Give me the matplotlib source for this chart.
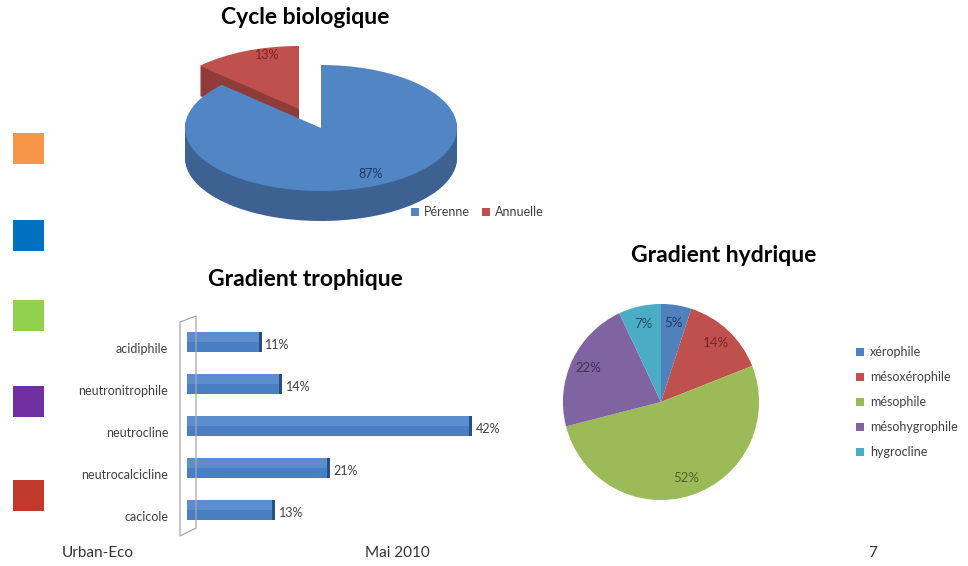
import matplotlib
matplotlib.use("Agg")
import matplotlib.pyplot as plt
import matplotlib.transforms as mtransforms
import numpy as np
from matplotlib.patches import Rectangle, Polygon
from matplotlib.colors import to_rgb

plt.rcParams['font.family'] = ['Lato', 'DejaVu Sans']

W, H = 968, 566

# --- data -------------------------------------------------------------
cycle_labels = ['Pérenne', 'Annuelle']
cycle_values = [87, 13]
cycle_colors = ['#5285C4', '#C0504D']

trophic_labels = ['acidiphile', 'neutronitrophile', 'neutrocline',
                  'neutrocalcicline', 'cacicole']
trophic_values = [11, 14, 42, 21, 13]

hydric_labels = ['xérophile', 'mésoxérophile', 'mésophile',
                 'mésohygrophile', 'hygrocline']
hydric_values = [5, 14, 52, 22, 7]
hydric_colors = ['#4F81BD', '#C0504D', '#9BBB59', '#8064A2', '#4BACC6']
hydric_text = ['#1F3864', '#7B2424', '#4F6228', '#3F3151', '#1F4E5F']

swatch_colors = ['#F79646', '#0070C0', '#92D050', '#7030A0', '#C0392B']

TXT = '#404040'
SMALL = 9


def box(left, top, width, height):
    """Pixel box (from top-left) -> figure fraction rect."""
    return [left / W, 1 - (top + height) / H, width / W, height / H]


def fxy(x, y):
    return (x / W, 1 - y / H)


def darker(c, f):
    r, g, b = to_rgb(c)
    return (r * f, g * f, b * f)


fig = plt.figure(figsize=(W / 100, H / 100), dpi=100)
fig.patch.set_facecolor('white')

# --- coloured squares on the left ------------------------------------
for top, col in zip([133, 220, 300, 386, 480], swatch_colors):
    fig.add_artist(Rectangle((13 / W, 1 - (top + 31) / H), 31 / W, 31 / H,
                             transform=fig.transFigure, facecolor=col,
                             edgecolor='none'))

# --- Cycle biologique : tilted pie with thickness --------------------
ax1 = fig.add_axes(box(170, 40, 300, 190))
cx, cy, rx, ry, depth = 321, 128, 136, 63, 30
red_shift = np.array([-22 / rx, 19 / ry])
side_colors = [darker(c, 0.74) for c in cycle_colors]
layers = np.linspace(depth / ry, 0, 31)[:-1]
for k in layers:
    ws, _ = ax1.pie(cycle_values, colors=side_colors, startangle=90,
                    counterclock=False, center=(0, -k),
                    wedgeprops=dict(linewidth=0))
    ws[1].set_center(tuple(np.array(ws[1].center) + red_shift))

top_w, _, auts = ax1.pie(cycle_values, colors=cycle_colors, startangle=90,
                         counterclock=False,
                         autopct=lambda p: f'{p:.0f}%', pctdistance=0.8,
                         wedgeprops=dict(linewidth=0),
                         textprops=dict(fontsize=9))
top_w[1].set_center(tuple(np.array(top_w[1].center) + red_shift))
auts[0].set_color('#1F3864')
auts[1].set_color('#7B2424')
px, py = auts[0].get_position()
auts[0].set_position((px + 0.05, py))
px, py = auts[1].get_position()
auts[1].set_position((px + red_shift[0] + 0.08, py + red_shift[1] + 0.13))
ax1.set_xlim((170 - cx) / rx, (470 - cx) / rx)
ax1.set_ylim((cy - 230) / ry, (cy - 40) / ry)
ax1.set_aspect('auto')
ax1.axis('off')

leg1 = fig.legend(handles=top_w, labels=cycle_labels, loc='center left',
                  bbox_to_anchor=(411 / W, 1 - 212 / H), ncol=2,
                  frameon=False, fontsize=SMALL, handlelength=0.6,
                  handleheight=0.6, handletextpad=0.4, columnspacing=1.0,
                  borderpad=0, borderaxespad=0)
for t in leg1.get_texts():
    t.set_color(TXT)

fig.text(305 / W, 1 - 18 / H, 'Cycle biologique', ha='center', va='center',
         fontsize=16.5, fontweight='bold', color='black')

# --- Gradient trophique : horizontal bars ----------------------------
# thin 3D wall behind the bars
wall = [fxy(180, 322), fxy(196, 316), fxy(196, 528), fxy(180, 536)]
fig.add_artist(Polygon(wall, closed=True, transform=fig.transFigure,
                       facecolor='none', edgecolor='#A8A8A8', linewidth=0.9))

ax2 = fig.add_axes(box(187, 317, 330, 224))
y = np.arange(len(trophic_values))
vals = np.array(trophic_values)
bar_h = 0.48
ax2.barh(y, vals, height=bar_h, color='#4A7EC2', linewidth=0)
ax2.barh(y - bar_h / 4, vals, height=bar_h / 2, color='#5C8DCE', linewidth=0)
cap = 0.45
ax2.barh(y, cap, left=vals - cap, height=bar_h, color='#284F80', linewidth=0)
val_off = mtransforms.ScaledTranslation(0, -3 / 100, fig.dpi_scale_trans)
for yi, v in zip(y, vals):
    ax2.text(v + 0.55, yi, f'{v}%', va='center', ha='left', fontsize=SMALL,
             color=TXT, transform=ax2.transData + val_off)
ax2.set_xlim(0, 330 / 6.79)
ax2.set_ylim(4 + 31 / 42, -25 / 42)
ax2.set_yticks(y)
ax2.set_yticklabels(trophic_labels, fontsize=SMALL, color=TXT)
ax2.tick_params(axis='y', length=0, pad=13.5)
lab_off = mtransforms.ScaledTranslation(0, -6 / 100, fig.dpi_scale_trans)
for lab in ax2.get_yticklabels():
    lab.set_transform(lab.get_transform() + lab_off)
ax2.set_xticks([])
for s in ['top', 'right', 'bottom', 'left']:
    ax2.spines[s].set_visible(False)
ax2.patch.set_alpha(0)

fig.text(305 / W, 1 - 280 / H, 'Gradient trophique', ha='center',
         va='center', fontsize=16.5, fontweight='bold', color='black')

# --- Gradient hydrique : flat pie -----------------------------------
ax3 = fig.add_axes(box(561, 302, 200, 200))
hw, _, hauts = ax3.pie(hydric_values, colors=hydric_colors, startangle=90,
                       counterclock=False,
                       autopct=lambda p: f'{p:.0f}%', pctdistance=0.82,
                       wedgeprops=dict(linewidth=0),
                       textprops=dict(fontsize=9.5))
for t, c in zip(hauts, hydric_text):
    t.set_color(c)
ax3.set_xlim(-1.02, 1.02)
ax3.set_ylim(-1.02, 1.02)
ax3.axis('off')

leg3 = fig.legend(handles=hw, labels=hydric_labels, loc='upper left',
                  bbox_to_anchor=(856 / W, 1 - 346 / H), frameon=False,
                  fontsize=SMALL, handlelength=0.6, handleheight=0.6,
                  handletextpad=0.5, labelspacing=1.05, borderpad=0,
                  borderaxespad=0)
for t in leg3.get_texts():
    t.set_color(TXT)

fig.text(724 / W, 1 - 256 / H, 'Gradient hydrique', ha='center',
         va='center', fontsize=16.5, fontweight='bold', color='black')

# --- footer ----------------------------------------------------------
fig.text(62 / W, 1 - 553 / H, 'Urban-Eco', ha='left', va='center',
         fontsize=11, color='#333333')
fig.text(397 / W, 1 - 553 / H, 'Mai 2010', ha='center', va='center',
         fontsize=11, color='#333333')
fig.text(873 / W, 1 - 553 / H, '7', ha='center', va='center',
         fontsize=11, color='#333333')

fig.savefig('out.png', dpi=100, facecolor='white')
